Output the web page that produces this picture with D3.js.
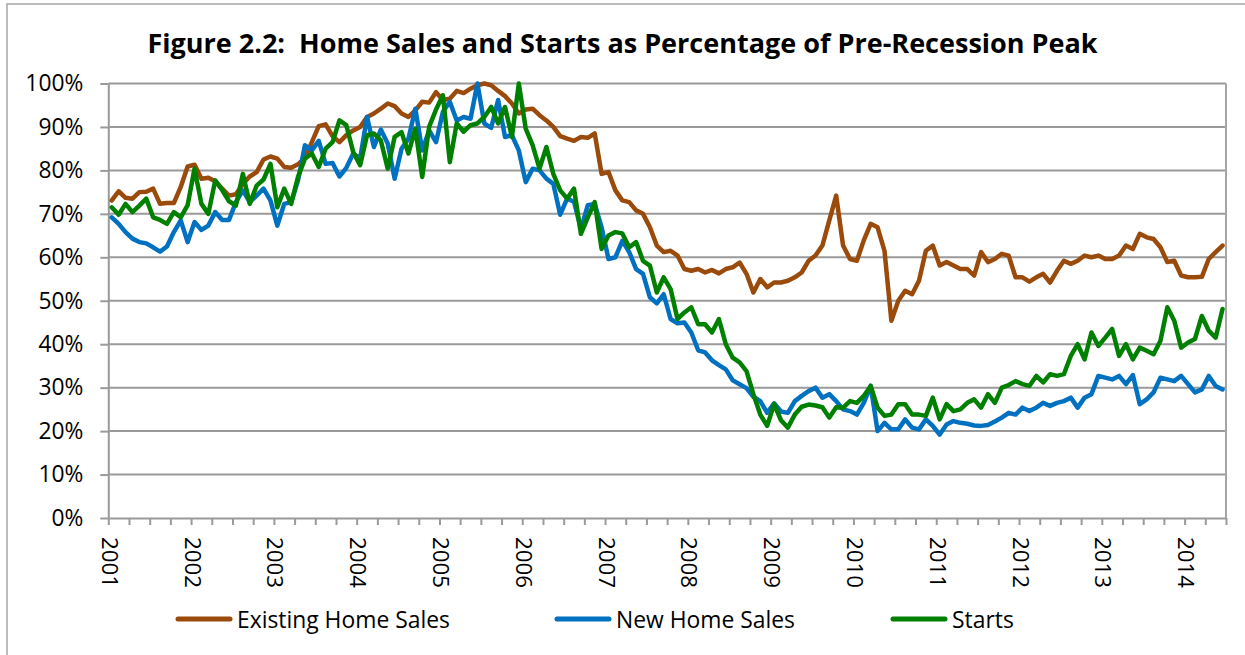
<!DOCTYPE html>
<html>
<head>
<meta charset="utf-8">
<script src="https://cdn.jsdelivr.net/npm/d3@7"></script>
<style>
  html, body { margin: 0; padding: 0; background: #fff; }
  svg { display: block; font-family: 'Open Sans', sans-serif; }
</style>
</head>
<body>
<svg id="chart" width="1245" height="655"></svg>
<script>
// monthly values, Jan 2001 - Jun 2014, % of pre-recession peak
var existingSales = [
  73.1, 75.2, 73.7, 73.5, 75.0, 75.1, 75.8, 72.3, 72.5, 72.5, 76.2, 80.9,
  81.3, 78.1, 78.3, 77.5, 75.8, 74.2, 74.5, 76.9, 78.6, 79.6, 82.5, 83.2,
  82.7, 80.8, 80.6, 81.4, 82.9, 86.5, 90.2, 90.6, 87.9, 86.5, 88.1, 89.2,
  90.0, 92.3, 93.1, 94.2, 95.4, 94.8, 93.1, 92.3, 93.8, 95.8, 95.6, 98.0,
  96.2, 96.5, 98.3, 97.8, 98.8, 99.6, 100, 99.6, 98.3, 97.1, 95.4, 93.1,
  94.0, 94.2, 92.7, 91.5, 90.0, 87.9, 87.3, 86.8, 87.7, 87.5, 88.5, 79.2,
  79.6, 75.4, 73.1, 72.7, 70.8, 70.0, 66.9, 62.7, 61.2, 61.5, 60.4, 57.3,
  56.9, 57.3, 56.5, 57.1, 56.3, 57.3, 57.7, 58.8, 56.2, 51.9, 55.0, 53.1,
  54.2, 54.2, 54.6, 55.4, 56.5, 59.2, 60.4, 62.7, 68.5, 74.2, 62.7, 59.6,
  59.2, 63.9, 67.7, 66.9, 61.5, 45.4, 50.0, 52.3, 51.5, 54.6, 61.5, 62.7,
  58.1, 58.9, 58.1, 57.3, 57.3, 55.8, 61.2, 58.9, 59.6, 60.8, 60.4, 55.4,
  55.4, 54.4, 55.4, 56.2, 54.2, 56.9, 59.2, 58.5, 59.2, 60.4, 60.0, 60.4,
  59.6, 59.6, 60.4, 62.7, 61.9, 65.4, 64.6, 64.2, 62.3, 58.9, 59.2, 55.8,
  55.4, 55.4, 55.5, 59.6, 61.2, 62.7
];

var newSales = [
  69.2, 67.7, 65.8, 64.3, 63.5, 63.2, 62.3, 61.3, 62.5, 65.8, 68.5, 63.5,
  68.1, 66.3, 67.3, 70.4, 68.6, 68.6, 72.7, 75.4, 72.7, 74.2, 75.8, 73.1,
  67.3, 72.3, 72.7, 77.7, 85.8, 84.6, 86.8, 81.5, 81.7, 78.6, 80.6, 83.9,
  82.7, 92.3, 85.4, 89.4, 86.2, 78.1, 85.0, 87.3, 94.2, 84.6, 89.2, 86.5,
  93.5, 95.8, 91.5, 92.3, 91.9, 100, 90.8, 89.8, 96.2, 87.7, 88.1, 84.6,
  77.3, 80.4, 80.0, 78.1, 76.9, 69.8, 73.5, 72.8, 66.5, 72.0, 72.3, 66.9,
  59.6, 60.0, 63.8, 61.2, 57.3, 56.2, 50.8, 49.4, 51.5, 45.8, 44.8, 45.0,
  42.7, 38.6, 38.1, 36.3, 35.2, 34.2, 31.7, 30.8, 29.9, 27.9, 26.9, 24.2,
  26.4, 24.5, 24.2, 26.9, 28.1, 29.2, 30.0, 27.7, 28.5, 26.9, 25.0, 24.6,
  23.8, 26.5, 30.4, 20.0, 21.9, 20.4, 20.4, 22.7, 20.8, 20.4, 22.7, 21.2,
  19.2, 21.5, 22.3, 21.9, 21.7, 21.3, 21.2, 21.4, 22.2, 23.1, 24.2, 23.8,
  25.4, 24.6, 25.4, 26.5, 25.8, 26.5, 26.9, 27.7, 25.4, 27.7, 28.5, 32.7,
  32.3, 31.9, 32.7, 30.8, 32.9, 26.2, 27.3, 28.9, 32.3, 31.9, 31.5, 32.7,
  30.8, 28.9, 29.6, 32.7, 30.4, 29.6
];

var starts = [
  71.5, 69.8, 72.3, 70.4, 71.9, 73.5, 69.2, 68.6, 67.7, 70.4, 69.2, 72.0,
  80.4, 72.3, 70.0, 77.7, 75.5, 72.9, 71.9, 79.2, 72.3, 76.5, 77.9, 81.5,
  71.5, 75.8, 72.3, 78.5, 82.7, 83.9, 80.8, 85.0, 86.5, 91.5, 90.4, 84.2,
  81.2, 88.1, 88.5, 86.9, 80.4, 87.7, 88.8, 83.9, 89.6, 78.5, 90.0, 94.0,
  97.3, 81.9, 90.8, 88.9, 90.4, 90.8, 92.3, 94.6, 90.8, 94.6, 87.7, 100,
  89.6, 85.8, 80.4, 85.4, 79.2, 75.4, 73.5, 75.8, 65.4, 69.2, 72.7, 61.9,
  65.0, 65.8, 65.5, 62.3, 63.5, 59.2, 58.1, 51.9, 55.4, 52.7, 45.8, 47.3,
  48.5, 44.6, 44.6, 42.7, 45.8, 40.0, 36.9, 35.8, 33.8, 28.5, 23.8, 21.2,
  26.2, 22.5, 20.8, 23.8, 25.6, 26.1, 25.9, 25.5, 23.1, 25.5, 25.4, 26.9,
  26.5, 28.1, 30.4, 25.4, 23.5, 23.8, 26.2, 26.2, 23.8, 23.8, 23.5, 27.7,
  22.7, 26.2, 24.6, 25.0, 26.5, 27.3, 25.4, 28.5, 26.5, 30.0, 30.6, 31.5,
  30.8, 30.4, 32.7, 31.2, 33.1, 32.7, 33.1, 37.3, 40.0, 36.5, 42.7, 39.6,
  41.5, 43.5, 37.3, 40.0, 36.5, 39.2, 38.5, 37.7, 40.8, 48.5, 45.4, 39.2,
  40.4, 41.2, 46.5, 43.1, 41.5, 48.1
];

var years = ['2001', '2002', '2003', '2004', '2005', '2006', '2007',
  '2008', '2009', '2010', '2011', '2012', '2013', '2014'];
var yTicks = [0, 10, 20, 30, 40, 50, 60, 70, 80, 90, 100];

var seriesNames = ['Existing Home Sales', 'New Home Sales', 'Starts'];
var seriesColors = ['#9a4a0a', '#0070c0', '#008000'];

var svg = d3.select('#chart');

var plot = {left: 108.3, right: 1226, top: 83.5, bottom: 518};
var nMonths = existingSales.length;

var x = d3.scaleLinear().domain([0, nMonths]).range([plot.left, plot.right]);
var y = d3.scaleLinear().domain([0, 100]).range([plot.bottom, plot.top]);

// fit a text's font-size so that it has the wanted width
function fit(sel, target) {
  var w = sel.node().getComputedTextLength();
  var fs = parseFloat(sel.attr('font-size'));
  var size = fs * target / w;
  sel.attr('font-size', size);
  return size;
}

// outer frame of the chart
svg.append('path')
  .attr('d', 'M7,655 V4 H1245')
  .attr('fill', 'none')
  .attr('stroke', '#a6a6a6')
  .attr('stroke-width', 1.5);

// title
var title = svg.append('text')
  .attr('x', 622.5)
  .attr('y', 53)
  .attr('text-anchor', 'middle')
  .attr('font-weight', 'bold')
  .attr('font-size', 26)
  .attr('fill', '#000')
  .style('white-space', 'pre')
  .text('Figure 2.2:  Home Sales and Starts as Percentage of Pre-Recession Peak');
fit(title, 951);

// grid lines
svg.append('g')
  .selectAll('line')
  .data(yTicks.filter(function(d) { return d > 0; }))
  .join('line')
  .attr('x1', plot.left)
  .attr('x2', plot.right)
  .attr('y1', function(d) { return y(d); })
  .attr('y2', function(d) { return y(d); })
  .attr('stroke', '#9a9a9a')
  .attr('stroke-width', 2);

// right border of the plot
svg.append('line')
  .attr('x1', plot.right).attr('x2', plot.right)
  .attr('y1', plot.top).attr('y2', plot.bottom)
  .attr('stroke', '#a6a6a6')
  .attr('stroke-width', 2);

// y axis
var yAxis = svg.append('g')
  .attr('transform', 'translate(' + plot.left + ',0)')
  .call(d3.axisLeft(y)
    .tickValues(yTicks)
    .tickSize(8)
    .tickSizeOuter(0)
    .tickPadding(17)
    .tickFormat(function(d) { return d + '%'; }));
yAxis.attr('font-family', null).attr('font-size', null);
yAxis.selectAll('line, path').attr('stroke', '#9a9a9a').attr('stroke-width', 2);
yAxis.selectAll('text')
  .attr('font-size', 24)
  .attr('fill', '#000');
var labelSize = fit(yAxis.selectAll('text').filter(function(d) { return d === 100; }), 58);
yAxis.selectAll('text').attr('font-size', labelSize);

// x axis, tick every quarter
var quarters = d3.range(0, nMonths + 1, 3);
var xAxis = svg.append('g')
  .attr('transform', 'translate(0,' + plot.bottom + ')')
  .call(d3.axisBottom(x)
    .tickValues(quarters)
    .tickSize(7)
    .tickSizeOuter(0)
    .tickFormat(''));
xAxis.selectAll('line, path').attr('stroke', '#9a9a9a').attr('stroke-width', 2);

// year labels, turned
var yearLabels = svg.append('g')
  .selectAll('text')
  .data(years)
  .join('text')
  .attr('transform', function(d, i) {
    return 'translate(' + (x(i * 12) + 2) + ',537) rotate(90)';
  })
  .attr('dominant-baseline', 'central')
  .attr('font-size', 24)
  .attr('fill', '#000')
  .text(function(d) { return d; });
var yearSize = fit(yearLabels.filter(function(d) { return d === '2001'; }), 51);
yearLabels.attr('font-size', yearSize);

// the three series
var line = d3.line()
  .x(function(d, i) { return x(i + 0.5); })
  .y(function(d) { return y(d); });

var series = [existingSales, newSales, starts];
svg.append('g')
  .selectAll('path')
  .data(series)
  .join('path')
  .attr('d', line)
  .attr('fill', 'none')
  .attr('stroke', function(d, i) { return seriesColors[i]; })
  .attr('stroke-width', 4.5)
  .attr('stroke-linejoin', 'round')
  .attr('stroke-linecap', 'round');

// legend
var legendX = [178, 557, 893];
var legend = svg.append('g')
  .selectAll('g')
  .data(seriesNames)
  .join('g')
  .attr('transform', function(d, i) { return 'translate(' + legendX[i] + ',619)'; });

legend.append('line')
  .attr('x1', 0).attr('x2', 52)
  .attr('stroke', function(d, i) { return seriesColors[i]; })
  .attr('stroke-width', 5)
  .attr('stroke-linecap', 'round');

legend.append('text')
  .attr('x', 59)
  .attr('dominant-baseline', 'central')
  .attr('font-size', 24)
  .attr('fill', '#000')
  .text(function(d) { return d; });

var legendSize = fit(legend.select('text').filter(function(d) { return d === 'Existing Home Sales'; }), 213);
legend.selectAll('text').attr('font-size', legendSize);
</script>
</body>
</html>
